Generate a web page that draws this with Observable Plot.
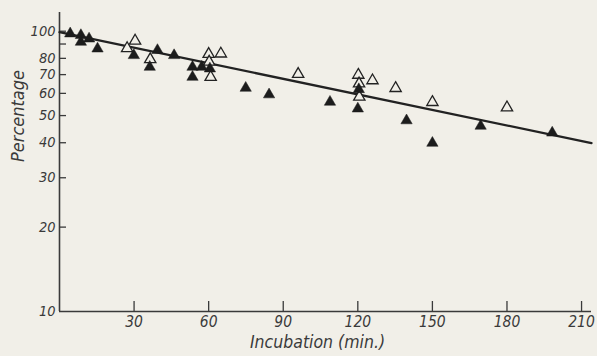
<!DOCTYPE html>
<html><head><meta charset="utf-8">
<script src="https://cdn.jsdelivr.net/npm/d3@7"></script>
<script src="https://cdn.jsdelivr.net/npm/@observablehq/plot@0.6"></script>
<style>
html,body{margin:0;padding:0;background:#f1efe8;}
</style></head><body><div id="chart"></div>
<script>
// Filled triangles (incubation min, percentage)
const filledX = [4.3, 8.6, 8.6, 11.9, 15.3, 29.9, 36.3, 39.4, 46.1, 53.5, 53.5, 57.2, 60.5, 74.9, 84.3, 108.8, 120.4, 120.0, 139.6, 150.0, 169.4, 198.2];
const filledY = [98.0, 96.7, 91.5, 94.0, 86.6, 82.0, 74.5, 85.5, 82.0, 74.5, 68.6, 74.5, 73.5, 62.7, 59.4, 55.9, 62.0, 52.9, 48.0, 39.9, 45.9, 43.4];
// Open triangles
const openX = [27.2, 30.4, 36.5, 60.0, 60.2, 60.8, 64.9, 96.0, 120.2, 120.5, 120.6, 125.9, 135.2, 150.0, 180.0];
const openY = [86.9, 92.4, 79.3, 82.8, 77.7, 68.6, 83.1, 70.3, 69.8, 65.0, 58.3, 66.7, 62.6, 55.8, 53.4];
// Fitted line end points
const fitX = [0, 214];
const fitY = [99.2, 39.9];
// Axes
const xTicks = [30, 60, 90, 120, 150, 180, 210];
const yTicks = [10, 20, 30, 40, 50, 60, 70, 80, 90, 100];
const xLabel = "Incubation (min.)";
const yLabel = "Percentage";

const filled = filledX.map((x, i) => ({x, y: filledY[i]}));
const open = openX.map((x, i) => ({x, y: openY[i]}));
const fit = fitX.map((x, i) => ({x, y: fitY[i]}));

const bg = "#f1efe8";
const ink = "#3a3a3a";

const chart = Plot.plot({
  width: 597, height: 356,
  marginLeft: 59, marginRight: 6, marginTop: 12, marginBottom: 45,
  style: {background: bg, fontFamily: "'Liberation Sans Narrow', 'DejaVu Sans Condensed', sans-serif", fontStyle: "italic", color: ink, overflow: "visible"},
  x: {domain: [0, 214]},
  y: {type: "log", domain: [10, 116.6]},
  marks: [
    Plot.ruleX([0], {stroke: ink, strokeWidth: 1.6}),
    Plot.ruleY([10], {stroke: ink, strokeWidth: 1.6}),
    Plot.axisX(xTicks, {tickSize: -10, tickFormat: () => "", label: null, stroke: ink, strokeWidth: 1.3}),
    Plot.axisX(xTicks, {tickSize: 0, tickPadding: 4, fontSize: 15.5, label: null, fill: ink}),
    Plot.axisY(yTicks.filter(d => d !== 10), {tickSize: -7, tickFormat: () => "", label: null, stroke: ink, strokeWidth: 1.3}),
    Plot.axisY(yTicks, {tickSize: 0, tickPadding: 4, fontSize: 14.5, label: null, fill: ink}),
    Plot.line(fit, {x: "x", y: "y", stroke: "#222", strokeWidth: 2.3}),
    Plot.dot(open, {x: "x", y: "y", symbol: "triangle", r: 4.2, fill: bg, stroke: "#222", strokeWidth: 1.3}),
    Plot.dot(filled, {x: "x", y: "y", symbol: "triangle", r: 4.2, fill: "#1c1c1c", stroke: "#1c1c1c", strokeWidth: 0.5}),
    Plot.text([xLabel], {frameAnchor: "bottom", dy: 36, dx: -8, fontSize: 17.5, fill: ink}),
    Plot.text([yLabel], {frameAnchor: "left", rotate: -90, dx: -41, fontSize: 18, fill: ink})
  ]
});
document.getElementById("chart").appendChild(chart);
</script>
</body></html>
